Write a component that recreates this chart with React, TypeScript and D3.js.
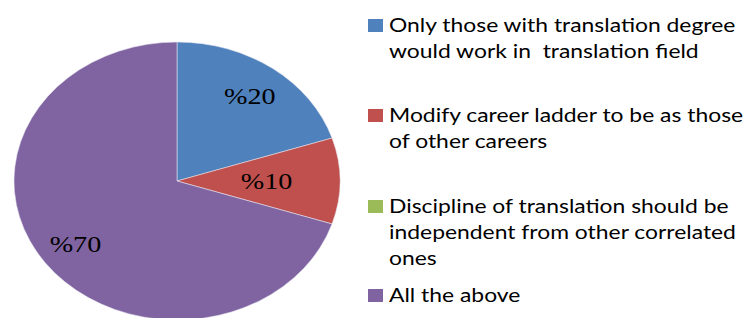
import { useRef, useEffect } from "react";
import * as d3 from "d3";

const categories = [
  ["Only those with translation degree", "would work in  translation field"],
  ["Modify career ladder to be as those", "of other careers"],
  ["Discipline of translation should be", "independent from other correlated", "ones"],
  ["All the above"],
];
const values = [20, 10, 0, 70];
const labels = ["%20", "%10", "", "%70"];
const colors = ["#4F81BD", "#C0504D", "#9BBB59", "#8064A2"];

const W = 752;
const H = 318;

export default function App() {
  const svgRef = useRef<SVGSVGElement>(null);

  useEffect(() => {
    if (!svgRef.current) return;
    const svg = d3.select(svgRef.current);
    svg.selectAll("*").remove();

    // chart image is stretched horizontally
    const sx = 163 / 139;
    const r = 139;
    const cx = 177;
    const cy = 181;

    const pie = d3.pie<number>().value((d) => d).sort(null);
    const arcs = pie(values);
    const arc = d3.arc<d3.PieArcDatum<number>>().innerRadius(0).outerRadius(r);

    const g = svg.append("g").attr("transform", `translate(${cx},${cy}) scale(${sx},1)`);

    g.selectAll("path")
      .data(arcs.filter((d) => d.value > 0))
      .enter()
      .append("path")
      .attr("d", arc)
      .attr("fill", (d) => colors[d.index])
      .attr("stroke", "#e8e8f0")
      .attr("stroke-width", 0.5);

    // label radius per slice
    const labelR = [0.76, 0.55, 0.6, 0.77];
    arcs.forEach((d, i) => {
      if (!labels[i]) return;
      const a = (d.startAngle + d.endAngle) / 2;
      const lr = r * labelR[i];
      const x = Math.sin(a) * lr;
      const y = -Math.cos(a) * lr;
      g.append("text")
        .attr("transform", `translate(${x},${y})`)
        .attr("text-anchor", "middle")
        .attr("dy", "0.35em")
        .attr("font-family", "'Liberation Serif', serif")
        .attr("font-size", 24)
        .attr("fill", "#000")
        .text(labels[i]);
    });

    // legend
    const tsx = 1.205;
    const baselines = [[32, 58], [122, 148], [213, 239, 265], [302]];
    const lg = svg.append("g");
    categories.forEach((lines, i) => {
      const b0 = baselines[i][0];
      lg.append("rect")
        .attr("x", 368)
        .attr("y", b0 - 13)
        .attr("width", 15)
        .attr("height", 13)
        .attr("fill", colors[i]);
      lines.forEach((t, j) => {
        lg.append("text")
          .attr("transform", `translate(389,${baselines[i][j]}) scale(${tsx},1)`)
          .attr("font-family", "Lato, sans-serif")
          .attr("font-size", 19)
          .attr("fill", "#000")
          .style("white-space", "pre")
          .text(t);
      });
    });
  }, []);

  return (
    <div style={{ position: "absolute", left: 0, top: 0 }}>
      <svg ref={svgRef} width={W} height={H} style={{ display: "block", background: "#fff" }} />
    </div>
  );
}
